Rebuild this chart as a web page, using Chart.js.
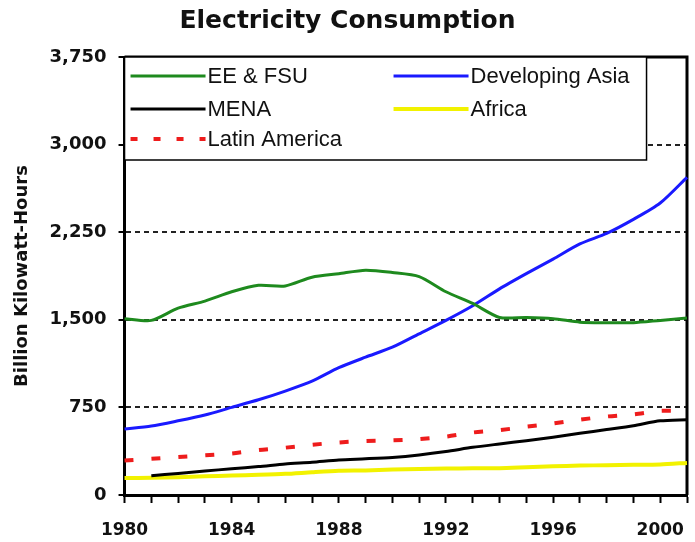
<!DOCTYPE html>
<html>
<head>
<meta charset="utf-8">
<script src="https://cdn.jsdelivr.net/npm/chart.js@4.4.1/dist/chart.umd.min.js"></script>
<style>
  html, body { margin: 0; padding: 0; background: #fff; }
  #wrap { width: 695px; height: 542px; position: relative; }
</style>
</head>
<body>
<div id="wrap"><canvas id="c" width="695" height="542"></canvas></div>
<script>
const years = ['1980','1981','1982','1983','1984','1985','1986','1987','1988','1989','1990',
               '1991','1992','1993','1994','1995','1996','1997','1998','1999','2000','2001'];
const labeledYears = ['1980','1984','1988','1992','1996','2000'];
const yTickValues = [0, 750, 1500, 2250, 3000, 3750];

const eeFsu   = [1510,1495,1600,1660,1740,1795,1790,1865,1895,1925,1905,1870,1740,1640,1520,1520,1510,1480,1475,1475,1495,1515];
const devAsia = [565,590,635,685,750,815,890,975,1090,1180,1265,1380,1495,1620,1765,1895,2020,2150,2240,2360,2500,2720];
const mena    = [null,165,185,205,225,243,265,280,300,310,322,343,372,408,437,465,494,528,560,593,635,645];
const africa  = [145,148,153,160,167,173,181,195,207,210,218,222,226,228,230,238,246,252,255,258,262,275];
const latAm   = [295,310,325,340,355,385,405,430,450,462,468,478,500,535,555,585,612,645,672,690,720,720];

const seriesNames = ['EE & FSU', 'Developing Asia', 'MENA', 'Africa', 'Latin America'];

// legend slot (column,row) per dataset — styling only
const legendSlots = [[0,0],[1,0],[0,1],[1,1],[0,2]];

const frameBorder = {
  id: 'frameBorder',
  beforeDatasetsDraw(chart) {
    const {ctx, chartArea: a} = chart;
    ctx.save();
    ctx.strokeStyle = '#000';
    ctx.lineWidth = 3;
    ctx.beginPath();
    ctx.moveTo(a.left, a.top);
    ctx.lineTo(a.right, a.top);
    ctx.lineTo(a.right, a.bottom);
    ctx.stroke();
    ctx.restore();
  }
};

const boxLegend = {
  id: 'boxLegend',
  afterDatasetsDraw(chart) {
    const {ctx, chartArea: a} = chart;
    const bx = a.left, by = a.top, bw = 522, bh = 103;
    ctx.save();
    ctx.fillStyle = '#fff';
    ctx.fillRect(bx, by, bw, bh);
    ctx.strokeStyle = '#000';
    ctx.lineWidth = 1.5;
    ctx.strokeRect(bx, by, bw, bh);
    const colX = [bx + 6, bx + 269];
    const rowY = [by + 19, by + 52, by + 82];
    ctx.font = '22px "Liberation Sans", Arial, sans-serif';
    ctx.textBaseline = 'middle';
    ctx.textAlign = 'left';
    chart.data.datasets.forEach((ds, i) => {
      const [c, r] = legendSlots[i];
      const x = colX[c], y = rowY[r];
      ctx.strokeStyle = ds.borderColor;
      ctx.lineWidth = ds.borderWidth;
      ctx.setLineDash(i === 4 ? [7, 16] : []);
      ctx.beginPath();
      ctx.moveTo(x, y);
      ctx.lineTo(x + 75, y);
      ctx.stroke();
      ctx.setLineDash([]);
      ctx.fillStyle = '#111';
      ctx.fillText(ds.label, x + 77, y + 1);
    });
    ctx.restore();
  }
};

const colors = ['#1e8a1e', '#1a1aff', '#000000', '#f2f200', '#ee1c1c'];
const widths = [3, 3, 3, 4, 4];
const values = [eeFsu, devAsia, mena, africa, latAm];

new Chart(document.getElementById('c'), {
  type: 'line',
  data: {
    labels: years,
    datasets: values.map((v, i) => ({
      label: seriesNames[i],
      data: v,
      borderColor: colors[i],
      backgroundColor: colors[i],
      borderWidth: widths[i],
      borderDash: i === 4 ? [9, 18] : [],
      pointRadius: 0,
      tension: 0.25,
      fill: false
    }))
  },
  options: {
    responsive: false,
    animation: false,
    devicePixelRatio: 1,
    layout: { padding: { left: 8, right: 8, top: 0, bottom: -17 } },
    plugins: {
      legend: { display: false },
      tooltip: { enabled: false },
      title: {
        display: true,
        text: 'Electricity Consumption',
        color: '#111',
        font: { family: '"DejaVu Sans", sans-serif', size: 25, weight: 'bold' },
        padding: { top: 6, bottom: 21 }
      }
    },
    scales: {
      x: {
        type: 'category',
        offset: false,
        grid: { drawOnChartArea: false, drawTicks: true, tickLength: 8, tickColor: '#000', tickWidth: 2 },
        border: { color: '#000', width: 3 },
        ticks: {
          autoSkip: false,
          maxRotation: 0,
          padding: 0,
          color: '#111',
          font: { family: '"DejaVu Sans", sans-serif', size: 17, weight: 'bold', lineHeight: '56px' },
          callback: function(value) {
            const lab = this.getLabelForValue(value);
            return labeledYears.includes(lab) ? lab : '';
          }
        }
      },
      y: {
        min: 0,
        max: 3750,
        afterBuildTicks: (axis) => { axis.ticks = yTickValues.map(v => ({ value: v })); },
        grid: {
          color: (ctx) => (ctx.tick && (ctx.tick.value === 0 || ctx.tick.value === 3750)) ? 'rgba(0,0,0,0)' : '#222',
          lineWidth: 2,
          drawTicks: true,
          tickLength: 6,
          tickColor: '#000',
          tickWidth: 2,
          tickBorderDash: []
        },
        border: { color: '#000', width: 3, dash: [5, 4] },
        ticks: {
          padding: 12,
          color: '#111',
          font: { family: '"DejaVu Sans", sans-serif', size: 18, weight: 'bold' },
          callback: (v) => Number(v).toLocaleString('en-US')
        },
        title: {
          display: true,
          text: 'Billion Kilowatt-Hours',
          color: '#111',
          font: { family: '"DejaVu Sans", sans-serif', size: 18, weight: 'bold' },
          padding: { top: 4, bottom: 4 }
        }
      }
    }
  },
  plugins: [frameBorder, boxLegend]
});
</script>
</body>
</html>
